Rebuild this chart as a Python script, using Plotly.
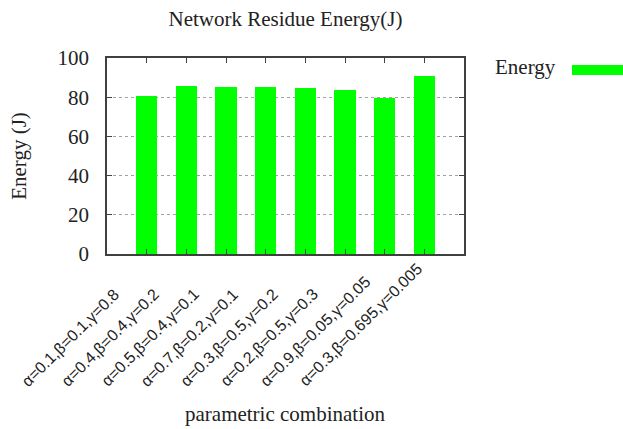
import plotly.graph_objects as go

categories = [
    "α=0.1,β=0.1,γ=0.8",
    "α=0.4,β=0.4,γ=0.2",
    "α=0.5,β=0.4,γ=0.1",
    "α=0.7,β=0.2,γ=0.1",
    "α=0.3,β=0.5,γ=0.2",
    "α=0.2,β=0.5,γ=0.3",
    "α=0.9,β=0.05,γ=0.05",
    "α=0.3,β=0.695,γ=0.005",
]
energy = [80.5, 85.8, 85.3, 85.3, 84.8, 83.8, 79.7, 90.9]
y_ticks = [0, 20, 40, 60, 80, 100]

SERIF = "Liberation Serif"
SANS = "Liberation Sans"
TXT = "#222222"
AX = "#404040"

fig = go.Figure()
fig.add_trace(go.Bar(
    x=categories, y=energy, width=0.53,
    marker=dict(color="#00ff00", line=dict(width=0)),
    name="Energy", showlegend=False,
))

# rotated category labels
for c in categories:
    fig.add_annotation(
        x=c, xref="x", y=-0.705, yref="paper",
        text=c, textangle=-45, showarrow=False,
        xanchor="left", yanchor="bottom", xshift=-131,
        font=dict(family=SANS, size=16, color=TXT),
    )

# x axis title
fig.add_annotation(
    x=0.5, y=-0.816, xref="paper", yref="paper",
    text="parametric combination", showarrow=False,
    xanchor="center", yanchor="middle",
    font=dict(family=SERIF, size=21, color=TXT),
)

# legend (text + wide swatch on the right)
fig.add_annotation(
    x=1.172, y=0.954, xref="paper", yref="paper", text="Energy",
    showarrow=False, xanchor="center", yanchor="middle",
    font=dict(family=SERIF, size=21, color=TXT),
)
fig.add_shape(type="rect", xref="paper", yref="paper",
              x0=1.3025, x1=1.4454, y0=0.913, y1=0.964,
              fillcolor="#00ff00", line=dict(width=0))

fig.update_layout(
    width=623, height=429,
    margin=dict(l=107, r=159, t=58, b=175),
    paper_bgcolor="white", plot_bgcolor="white",
    title=dict(text="Network Residue Energy(J)", x=0.5, xref="paper",
               y=1 - 19 / 429, yref="container", yanchor="middle",
               xanchor="center",
               font=dict(family=SERIF, size=21, color=TXT)),
    showlegend=False,
    bargap=0,
)
fig.update_xaxes(
    type="category", range=[-1, 8], showticklabels=False,
    showline=True, linecolor=AX, linewidth=1.5, mirror="allticks",
    ticks="inside", ticklen=5, tickcolor=AX, tickwidth=1,
    showgrid=False, zeroline=False, automargin=False,
)
fig.update_yaxes(
    range=[0, 100], tickvals=y_ticks, ticktext=[str(v) for v in y_ticks],
    showline=True, linecolor=AX, linewidth=1.5, mirror="allticks",
    ticks="inside", ticklen=5, tickcolor=AX, tickwidth=1,
    showgrid=True, gridcolor="#a0a0a0", griddash="dot", gridwidth=1,
    zeroline=False, automargin=False,
    tickfont=dict(family=SERIF, size=21, color=TXT),
    ticklabelstandoff=12,
    title=dict(text="Energy (J)", standoff=25,
               font=dict(family=SERIF, size=21, color=TXT)),
)

fig.write_html("out.html")
